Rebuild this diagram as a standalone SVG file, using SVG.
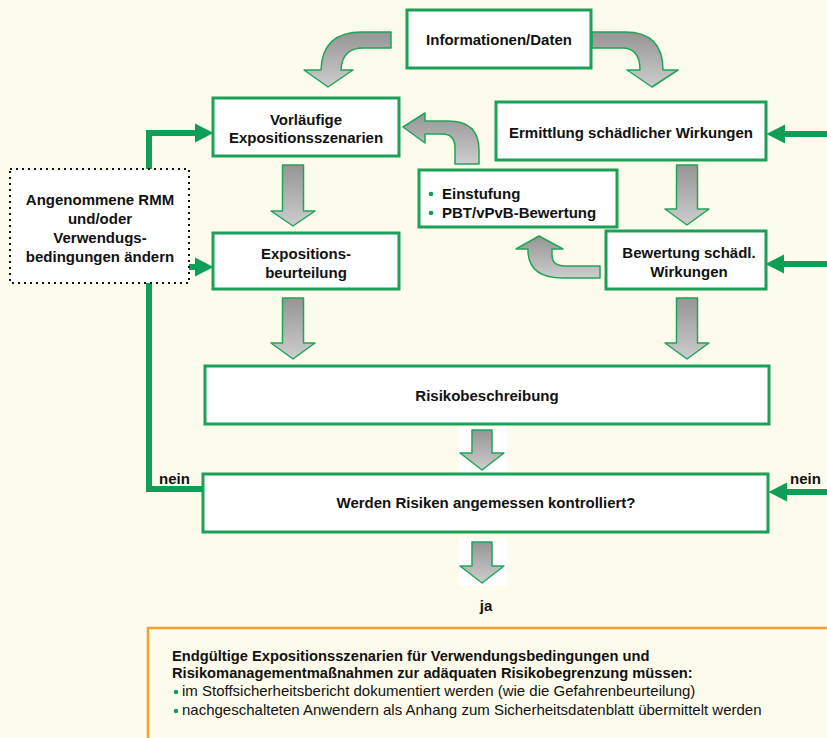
<svg xmlns="http://www.w3.org/2000/svg" width="827" height="738" viewBox="0 0 827 738">
<defs>
<linearGradient id="g" x1="0" y1="0" x2="0" y2="1">
<stop offset="0" stop-color="#959595"/>
<stop offset="1" stop-color="#cdcdcd"/>
</linearGradient>
<marker id="ah" markerUnits="userSpaceOnUse" markerWidth="19" markerHeight="20" refX="0" refY="10" orient="auto">
<path d="M0,0.5 L18.5,10 L0,19.5 Z" fill="#0e9f56"/>
</marker>
</defs>
<style>
text{font-family:"Liberation Sans Narrow","Liberation Sans",Arial,sans-serif;fill:#111;}
.b{font-weight:bold;font-size:15px;}
.c{text-anchor:middle;}
.box{fill:#fff;stroke:#1c9f57;stroke-width:3;}
.ga{fill:url(#g);stroke:#20a558;stroke-width:1.5;stroke-linejoin:round;}
.con{fill:none;stroke:#0e9f56;stroke-width:6;}
.dot{fill:#0e9f56;}
.t{font-size:15px;}
.tb{font-size:14.7px;font-weight:bold;}
</style>
<rect width="827" height="738" fill="#fdfbeb"/>

<g id="connectors">
<path class="con" d="M149 169 L149 133 L195 133" marker-end="url(#ah)"/>
<path class="con" d="M189 267 L195 267" marker-end="url(#ah)"/>
<path class="con" d="M149 283 L149 489 L203 489"/>
<path class="con" d="M827 134 L785 134" marker-end="url(#ah)"/>
<path class="con" d="M827 264 L784 264" marker-end="url(#ah)"/>
<path class="con" d="M827 492 L787 492" marker-end="url(#ah)"/>
<text class="b" x="159" y="484">nein</text>
<text class="b" x="790" y="484">nein</text>
<text class="b c" x="486" y="611">ja</text>
<!-- gray block arrows -->
<path class="ga" d="M391 32 L362 32 Q322 32 321 70 L304 70 L328 87 L353 70 L341 70 Q342 48 363 48 L391 48 Z"/>
<path class="ga" d="M592 32 L625 32 Q663 32 663 70 L678 70 L652 87 L627 70 L640 70 Q640 48 622 48 L592 48 Z"/>
<path class="ga" d="M403 127 L425 113 L425 121 L448 121 Q479 121 479 150 L479 164 L455 164 L455 148 Q455 134 442 134 L425 134 L425 143 Z"/>
<path class="ga" d="M539 236 L563 249 L552 249 L552 255 Q552 266 565 266 L600 266 L600 278 L563 278 Q528 278 528 250 L528 249 L516 249 Z"/>
<path class="ga" d="M282.5 165 L303.5 165 L303.5 211 L315 211 L293 226 L271 211 L282.5 211 Z"/>
<path class="ga" d="M676.5 165 L697.5 165 L697.5 209 L709 209 L687 225 L665 209 L676.5 209 Z"/>
<path class="ga" d="M282.5 298 L303.5 298 L303.5 343 L315 343 L293 359 L271 343 L282.5 343 Z"/>
<path class="ga" d="M676.5 298 L697.5 298 L697.5 343 L709 343 L687 359 L665 343 L676.5 343 Z"/>
<rect x="459" y="427" width="48" height="46" fill="#fff"/>
<path class="ga" d="M472 430 L492 430 L492 453 L504 453 L482 470 L460 453 L472 453 Z"/>
<rect x="459" y="539" width="48" height="47" fill="#fff"/>
<path class="ga" d="M472 542 L492 542 L492 566 L504 566 L482 583 L460 566 L472 566 Z"/>
</g>

<g id="informationen">
<rect class="box" x="407" y="10" width="184" height="58"/>
<text class="b c" x="499" y="45">Informationen/Daten</text>
</g>
<g id="vorlaeufige">
<rect class="box" x="213" y="98" width="186" height="58"/>
<text class="b c" x="306" y="125">Vorläufige</text>
<text class="b c" x="306" y="143">Expositionsszenarien</text>
</g>
<g id="expositionsbeurteilung">
<rect class="box" x="213" y="233" width="186" height="56"/>
<text class="b c" x="306" y="259">Expositions-</text>
<text class="b c" x="306" y="278">beurteilung</text>
</g>
<g id="ermittlung">
<rect class="box" x="496" y="102" width="270" height="58"/>
<text class="b c" x="631" y="138">Ermittlung schädlicher Wirkungen</text>
</g>
<g id="einstufung">
<rect class="box" x="419" y="170" width="198" height="57"/>
<circle class="dot" cx="431" cy="194" r="2.3"/>
<text class="b" x="442" y="199">Einstufung</text>
<circle class="dot" cx="431" cy="213" r="2.3"/>
<text class="b" x="442" y="218">PBT/vPvB-Bewertung</text>
</g>
<g id="bewertung">
<rect class="box" x="606" y="231" width="160" height="58"/>
<text class="b c" x="689" y="258">Bewertung schädl.</text>
<text class="b c" x="689" y="277">Wirkungen</text>
</g>
<g id="rmm">
<rect x="10" y="169" width="179" height="114" fill="#fff" stroke="#111" stroke-width="2" stroke-dasharray="2 4"/>
<text class="b c" x="100" y="205">Angenommene RMM</text>
<text class="b c" x="100" y="224">und/oder</text>
<text class="b c" x="100" y="243">Verwendugs-</text>
<text class="b c" x="100" y="262">bedingungen ändern</text>
</g>
<g id="risikobeschreibung">
<rect class="box" x="205" y="366" width="564" height="58"/>
<text class="b c" x="487" y="401">Risikobeschreibung</text>
</g>
<g id="kontrolle">
<rect class="box" x="203" y="474" width="565" height="58"/>
<text class="b c" x="486" y="508">Werden Risiken angemessen kontrolliert?</text>
</g>
<g id="endgueltig">
<rect x="148" y="628" width="690" height="120" fill="#fdfbeb" stroke="#f5a033" stroke-width="2.5"/>
<text class="tb" x="172" y="661">Endgültige Expositionsszenarien für Verwendungsbedingungen und</text>
<text class="tb" x="172" y="678">Risikomanagementmaßnahmen zur adäquaten Risikobegrenzung müssen:</text>
<circle class="dot" cx="176" cy="692" r="2.2"/>
<text class="t" x="182" y="696">im Stoffsicherheitsbericht dokumentiert werden (wie die Gefahrenbeurteilung)</text>
<circle class="dot" cx="176" cy="711" r="2.2"/>
<text class="t" x="182" y="715">nachgeschalteten Anwendern als Anhang zum Sicherheitsdatenblatt übermittelt werden</text>
</g>
</svg>
